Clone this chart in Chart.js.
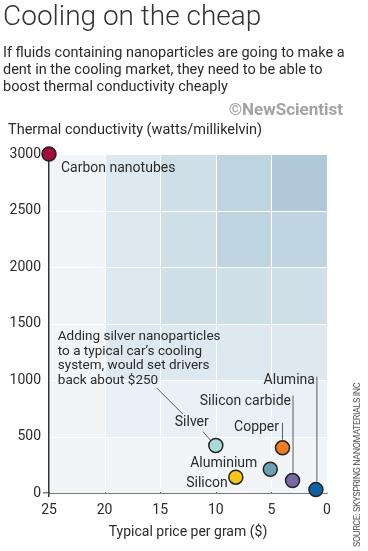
<!DOCTYPE html>
<html>
<head>
<meta charset="utf-8">
<script src="https://cdn.jsdelivr.net/npm/chart.js@4/dist/chart.umd.min.js"></script>
<style>
  body { margin: 0; background: #fff; font-family: Roboto, "Noto Sans", sans-serif; color: #2b2b2b; }
  #wrap { position: relative; width: 368px; height: 551px; overflow: hidden; }
  #chart { position: absolute; left: 0; top: 0; }
  .txt { position: absolute; white-space: nowrap; }
  #title { left: 3px; top: 2px; font-size: 28px; line-height: 28px; font-weight: 300; color: #333; }
  #sub { left: 3px; top: 44px; font-size: 14.5px; line-height: 17px; color: #2b2b2b; }
  #brand { right: 25px; top: 99px; font-size: 17px; line-height: 20px; font-weight: 700; color: #a3a3a3; }
  #ytitle { left: 8px; top: 121px; font-size: 14.5px; line-height: 17px; color: #2b2b2b; }
  #source { left: 357px; top: 547px; font-size: 9px; line-height: 10px; color: #555; letter-spacing: -0.4px;
            transform-origin: 0 0; transform: rotate(-90deg) translateY(-50%); }
</style>
</head>
<body>
<div id="wrap">
  <canvas id="chart" width="368" height="551"></canvas>
  <div class="txt" id="title">Cooling on the cheap</div>
  <div class="txt" id="sub">If fluids containing nanoparticles are going to make a<br>dent in the cooling market, they need to be able to<br>boost thermal conductivity cheaply</div>
  <div class="txt" id="brand">©NewScientist</div>
  <div class="txt" id="ytitle">Thermal conductivity (watts/millikelvin)</div>
  <div class="txt" id="source">SOURCE: SKYSPRING NANOMATERIALS INC</div>
</div>
<script>
// data
const materials = ['Carbon nanotubes', 'Silver', 'Copper', 'Aluminium', 'Silicon', 'Silicon carbide', 'Alumina'];
const pricePerGram = [25, 10, 4, 5.1, 8.2, 3.1, 1.0];
const conductivity = [3000, 420, 400, 210, 140, 110, 30];
const pointColors = ['#a50b3b', '#a9dcd6', '#f07d22', '#6e9fb4', '#f6c516', '#7a68a6', '#0f62a2'];

const xTicks = [25, 20, 15, 10, 5, 0];
const yTicks = [0, 500, 1000, 1500, 2000, 2500, 3000];

// background bands: price edges, conductivity edges, shade level per cell (rows from bottom)
const priceEdges = [25, 20, 15, 10, 5, 0];
const condEdges = [0, 500, 1000, 1500, 2000, 2500, 3000];
const shadeLevels = [
  [0, 0, 0, 0, 0],
  [0, 1, 1, 1, 1],
  [0, 2, 2, 2, 2],
  [0, 2, 3, 3, 3],
  [0, 2, 3, 4, 4],
  [0, 2, 3, 4, 5]
];
const shadeColors = ['#f1f5f8', '#eaf1f6', '#dde8f0', '#cfdfe8', '#bfd4e1', '#afc9d9'];

const note = ['Adding silver nanoparticles', 'to a typical car\u2019s cooling', 'system, would set drivers', 'back about $250'];

// label placement relative to each point (pixels): dx, dy, align, leader from/to
const labelPlace = [
  { dx: 12, dy: 14, align: 'left' },
  { dx: -24, dy: -23, align: 'center', line: [-13, -14, -5, -5] },
  { dx: -3.5, dy: -20, align: 'right', line: [0, -25, 0, -8] },
  { dx: -13, dy: -6, align: 'right' },
  { dx: -8, dy: 6, align: 'right' },
  { dx: -1.5, dy: -79, align: 'right', line: [0.5, -85, 0.5, -8] },
  { dx: -1, dy: -109, align: 'right', line: [1, -113, 1, -8] }
];

const LABEL_FONT = '14px Roboto, "Noto Sans", sans-serif';

const bandsPlugin = {
  id: 'bands',
  beforeDatasetsDraw(chart) {
    const { ctx, scales: { x, y } } = chart;
    ctx.save();
    for (let r = 0; r < condEdges.length - 1; r++) {
      for (let c = 0; c < priceEdges.length - 1; c++) {
        const x0 = Math.round(x.getPixelForValue(priceEdges[c]));
        const x1 = Math.round(x.getPixelForValue(priceEdges[c + 1]));
        const y0 = Math.round(y.getPixelForValue(condEdges[r + 1]));
        const y1 = Math.round(y.getPixelForValue(condEdges[r]));
        ctx.fillStyle = shadeColors[shadeLevels[r][c]];
        ctx.fillRect(x0 + 1, y0 + 1, x1 - x0 - 1, y1 - y0 - 1);
      }
    }
    ctx.restore();
  }
};

const labelsPlugin = {
  id: 'labels',
  afterDatasetsDraw(chart) {
    const { ctx } = chart;
    const pts = chart.getDatasetMeta(0).data;
    ctx.save();
    ctx.font = LABEL_FONT;
    ctx.fillStyle = '#2b2b2b';
    ctx.strokeStyle = '#333';
    ctx.lineWidth = 0.8;
    ctx.textBaseline = 'middle';
    materials.forEach((name, i) => {
      const p = pts[i], l = labelPlace[i];
      ctx.textAlign = l.align;
      ctx.fillText(name, p.x + l.dx, p.y + l.dy);
      if (l.line) {
        ctx.beginPath();
        ctx.moveTo(p.x + l.line[0], p.y + l.line[1]);
        ctx.lineTo(p.x + l.line[2], p.y + l.line[3]);
        ctx.stroke();
      }
    });
    // note about silver
    const s = pts[1];
    ctx.font = '13.5px Roboto, "Noto Sans", sans-serif';
    ctx.textAlign = 'left';
    note.forEach((line, k) => ctx.fillText(line, s.x - 158, s.y - 108.5 + k * 14.5));
    ctx.beginPath();
    ctx.moveTo(s.x - 59, s.y - 57.5);
    ctx.lineTo(s.x - 33, s.y - 31.5);
    ctx.stroke();
    ctx.restore();
  }
};

new Chart(document.getElementById('chart'), {
  type: 'scatter',
  data: {
    datasets: [{
      data: materials.map((m, i) => ({ x: pricePerGram[i], y: conductivity[i] })),
      backgroundColor: pointColors,
      borderColor: '#222',
      borderWidth: 1.5,
      pointRadius: 7,
      clip: false
    }]
  },
  options: {
    responsive: false,
    animation: false,
    events: [],
    layout: { padding: { left: 0, top: 154, right: 41, bottom: 0 } },
    plugins: { legend: { display: false }, tooltip: { enabled: false } },
    scales: {
      x: {
        type: 'linear', reverse: true, min: 0, max: 25,
        afterBuildTicks: s => { s.ticks = xTicks.map(v => ({ value: v })); },
        afterFit: s => { s.height = 58; s.paddingLeft = 0; s.paddingRight = 0; },
        grid: {
          drawOnChartArea: false, tickLength: 4, lineWidth: 1.5,
          color: c => (c.tick && c.tick.value === 25 ? '#333' : 'transparent')
        },
        border: { display: true, color: '#7a7a7a', width: 2 },
        ticks: { font: { family: 'Roboto', size: 14 }, color: '#2b2b2b', padding: 5, maxRotation: 0, callback: v => String(v) },
        title: {
          display: true, text: 'Typical price per gram ($)', color: '#2b2b2b',
          font: { family: 'Roboto', size: 14 }, padding: { top: 0, bottom: 10 }
        }
      },
      y: {
        type: 'linear', min: 0, max: 3000,
        afterBuildTicks: s => { s.ticks = yTicks.map(v => ({ value: v })); },
        afterFit: s => { s.width = 49; s.paddingTop = 0; s.paddingBottom = 0; },
        grid: {
          drawOnChartArea: false, tickLength: 6, lineWidth: 1.5,
          color: c => (c.tick && c.tick.value === 0 ? '#7a7a7a' : 'transparent')
        },
        border: { display: true, color: '#333', width: 1.5 },
        ticks: { font: { family: 'Roboto', size: 14 }, color: '#2b2b2b', padding: 2, callback: v => String(v) }
      }
    }
  },
  plugins: [bandsPlugin, labelsPlugin]
});
</script>
</body>
</html>
